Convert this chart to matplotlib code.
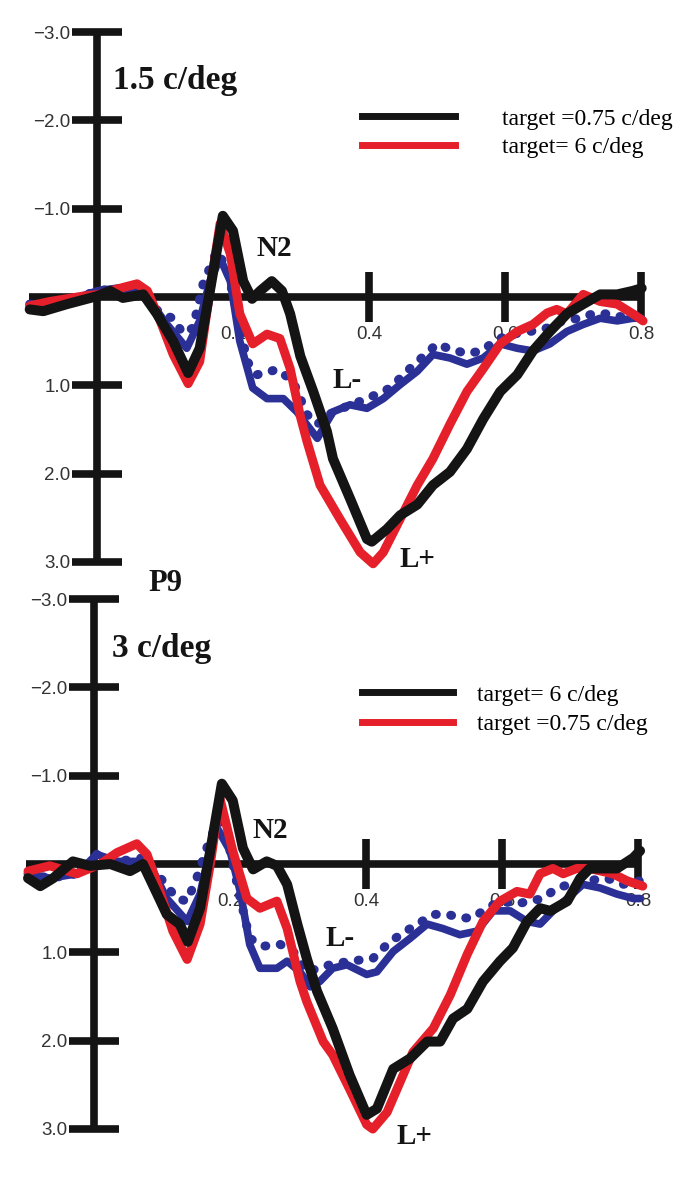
import matplotlib.pyplot as plt
from matplotlib.lines import Line2D

# ---- top panel: 1.5 c/deg ----
t1_black_x = [-0.099, -0.079, -0.044, 0.0, 0.019, 0.038, 0.068, 0.088, 0.112, 0.134, 0.151, 0.166,
              0.185, 0.200, 0.215, 0.228, 0.240, 0.257, 0.272, 0.284, 0.299, 0.318, 0.338, 0.347,
              0.372, 0.397, 0.404, 0.426, 0.446, 0.471, 0.494, 0.519, 0.544, 0.568, 0.593, 0.618,
              0.641, 0.666, 0.691, 0.715, 0.740, 0.765, 0.788, 0.801]
t1_black_y = [0.14, 0.16, 0.08, -0.01, -0.07, 0.01, -0.03, 0.19, 0.50, 0.86, 0.58, -0.07,
              -0.92, -0.75, -0.18, 0.02, -0.07, -0.18, -0.07, 0.19, 0.67, 1.07, 1.52, 1.83,
              2.28, 2.74, 2.77, 2.63, 2.47, 2.35, 2.13, 1.98, 1.72, 1.38, 1.07, 0.88,
              0.61, 0.39, 0.19, 0.08, -0.03, -0.03, -0.07, -0.10]

t1_red_x = [-0.099, -0.069, -0.021, 0.004, 0.029, 0.059, 0.074, 0.093, 0.112, 0.134, 0.151, 0.166,
            0.181, 0.196, 0.210, 0.229, 0.250, 0.269, 0.284, 0.299, 0.309, 0.328, 0.357, 0.387,
            0.406, 0.421, 0.446, 0.471, 0.494, 0.519, 0.544, 0.568, 0.593, 0.618, 0.641, 0.662,
            0.676, 0.691, 0.715, 0.740, 0.765, 0.788, 0.803]
t1_red_y = [0.10, 0.05, -0.01, -0.03, -0.09, -0.15, -0.07, 0.27, 0.65, 0.98, 0.73, -0.07,
            -0.83, -0.49, 0.19, 0.53, 0.42, 0.47, 0.81, 1.35, 1.64, 2.13, 2.51, 2.89,
            3.02, 2.89, 2.51, 2.13, 1.83, 1.44, 1.07, 0.81, 0.53, 0.39, 0.31, 0.18,
            0.14, 0.19, -0.03, 0.05, 0.08, 0.19, 0.27]

t1_blue_x = [-0.099, -0.069, -0.044, 0.0, 0.029, 0.059, 0.078, 0.103, 0.132, 0.151, 0.166, 0.181,
             0.196, 0.210, 0.229, 0.250, 0.274, 0.294, 0.313, 0.324, 0.347, 0.372, 0.397, 0.421,
             0.446, 0.471, 0.494, 0.519, 0.544, 0.568, 0.593, 0.618, 0.641, 0.666, 0.691, 0.715,
             0.740, 0.765, 0.788, 0.801]
t1_blue_y = [0.08, 0.10, 0.05, -0.07, -0.10, -0.07, 0.05, 0.31, 0.58, 0.27, -0.18, -0.44,
             -0.18, 0.50, 1.03, 1.15, 1.15, 1.30, 1.49, 1.60, 1.30, 1.22, 1.26, 1.15,
             0.99, 0.84, 0.65, 0.69, 0.76, 0.69, 0.53, 0.58, 0.61, 0.53, 0.39, 0.31,
             0.24, 0.27, 0.24, 0.24]

t1_dot_x = [-0.099, -0.069, -0.044, 0.0, 0.029, 0.059, 0.074, 0.093, 0.112, 0.126, 0.141, 0.156,
            0.176, 0.191, 0.206, 0.221, 0.235, 0.265, 0.288, 0.309, 0.324, 0.347, 0.387, 0.412,
            0.431, 0.460, 0.500, 0.519, 0.544, 0.566, 0.588, 0.612, 0.637, 0.662, 0.685, 0.710,
            0.729, 0.754, 0.779, 0.797]
t1_dot_y = [0.08, 0.10, 0.05, -0.07, -0.10, -0.07, 0.01, 0.19, 0.24, 0.41, 0.35, -0.15,
            -0.52, -0.33, 0.19, 0.73, 0.88, 0.82, 0.95, 1.33, 1.44, 1.30, 1.18, 1.10,
            1.03, 0.81, 0.53, 0.59, 0.64, 0.61, 0.48, 0.42, 0.39, 0.35, 0.27, 0.24,
            0.19, 0.19, 0.24, 0.19]

# ---- bottom panel: 3 c/deg ----
t2_black_x = [-0.097, -0.079, -0.060, -0.031, -0.006, 0.024, 0.053, 0.072, 0.093, 0.107, 0.126, 0.138,
              0.156, 0.171, 0.188, 0.204, 0.219, 0.234, 0.254, 0.269, 0.284, 0.299, 0.313, 0.328,
              0.351, 0.376, 0.401, 0.416, 0.440, 0.465, 0.490, 0.509, 0.528, 0.549, 0.572, 0.597,
              0.616, 0.637, 0.656, 0.671, 0.696, 0.715, 0.729, 0.769, 0.793, 0.803]
t2_black_y = [0.16, 0.25, 0.16, -0.03, 0.02, 0.0, 0.08, 0.0, 0.34, 0.57, 0.68, 0.88,
              0.50, -0.15, -0.91, -0.72, -0.18, 0.06, -0.03, 0.02, 0.23, 0.68, 1.07, 1.44,
              1.86, 2.39, 2.84, 2.77, 2.32, 2.20, 2.01, 2.01, 1.75, 1.64, 1.33, 1.10,
              0.95, 0.65, 0.50, 0.53, 0.42, 0.16, 0.05, 0.05, -0.07, -0.15]

t2_red_x = [-0.097, -0.065, -0.025, 0.009, 0.034, 0.063, 0.078, 0.097, 0.116, 0.137, 0.156, 0.171,
            0.185, 0.204, 0.225, 0.244, 0.269, 0.284, 0.303, 0.313, 0.337, 0.351, 0.376, 0.401,
            0.410, 0.431, 0.450, 0.469, 0.499, 0.524, 0.549, 0.572, 0.597, 0.622, 0.641, 0.656,
            0.675, 0.690, 0.710, 0.729, 0.763, 0.784, 0.807]
t2_red_y = [0.08, 0.02, 0.11, 0.0, -0.13, -0.23, -0.11, 0.31, 0.76, 1.08, 0.68, 0.0,
            -0.75, -0.15, 0.39, 0.50, 0.42, 0.73, 1.33, 1.56, 2.01, 2.16, 2.55, 2.95,
            3.00, 2.81, 2.47, 2.13, 1.86, 1.48, 1.02, 0.65, 0.42, 0.31, 0.34, 0.11,
            0.05, 0.11, 0.05, 0.05, 0.11, 0.19, 0.25]

t2_blue_x = [-0.097, -0.065, -0.025, 0.004, 0.034, 0.068, 0.087, 0.107, 0.137, 0.156, 0.171, 0.181,
             0.200, 0.215, 0.229, 0.244, 0.269, 0.284, 0.303, 0.318, 0.332, 0.351, 0.372, 0.401,
             0.416, 0.440, 0.465, 0.490, 0.513, 0.538, 0.563, 0.587, 0.612, 0.637, 0.656, 0.675,
             0.696, 0.719, 0.744, 0.769, 0.793, 0.803]
t2_blue_y = [0.11, 0.16, 0.11, -0.11, -0.03, -0.03, 0.08, 0.39, 0.65, 0.34, -0.18, -0.41,
             -0.15, 0.31, 0.91, 1.18, 1.18, 1.10, 1.22, 1.39, 1.33, 1.18, 1.14, 1.25,
             1.22, 0.99, 0.84, 0.68, 0.73, 0.80, 0.76, 0.53, 0.53, 0.65, 0.68, 0.53,
             0.39, 0.23, 0.27, 0.34, 0.39, 0.39]

t2_dot_x = [-0.097, -0.065, -0.025, 0.004, 0.034, 0.072, 0.093, 0.107, 0.122, 0.137, 0.151, 0.171,
            0.185, 0.200, 0.215, 0.229, 0.249, 0.274, 0.293, 0.313, 0.347, 0.376, 0.410, 0.435,
            0.465, 0.499, 0.519, 0.543, 0.557, 0.578, 0.597, 0.622, 0.641, 0.660, 0.681, 0.700,
            0.725, 0.754, 0.778, 0.803]
t2_dot_y = [0.11, 0.16, 0.11, -0.11, -0.03, -0.07, 0.11, 0.25, 0.39, 0.42, 0.16, -0.30,
            -0.49, -0.15, 0.39, 0.84, 0.93, 0.91, 0.99, 1.22, 1.14, 1.10, 1.07, 0.88,
            0.73, 0.57, 0.57, 0.61, 0.61, 0.50, 0.42, 0.45, 0.42, 0.39, 0.27, 0.23,
            0.19, 0.16, 0.23, 0.19]

yticks = [-3, -2, -1, 1, 2, 3]
ytick_labels = ['\u22123.0', '\u22122.0', '\u22121.0', '1.0', '2.0', '3.0']
xticks = [0.2, 0.4, 0.6, 0.8]
xtick_labels = ['0.2', '0.4', '0.6', '0.8']

legend_top = ['target =0.75 c/deg', 'target= 6 c/deg']
legend_bottom = ['target= 6 c/deg', 'target =0.75 c/deg']

BLACK = '#141414'
RED = '#e5202a'
BLUE = '#2b3096'
SERIF = 'Liberation Serif'

fig = plt.figure(figsize=(6.85, 11.82), dpi=100)
ax1 = fig.add_axes([0.0225, 0.5096, 0.953, 0.4707])
ax2 = fig.add_axes([0.0181, 0.0299, 0.953, 0.4707])


def setup(ax):
    ax.set_xlim(-0.12, 0.84)
    ax.set_ylim(3.2, -3.1)
    for s in ['top', 'right']:
        ax.spines[s].set_visible(False)
    ax.spines['left'].set_position(('data', 0))
    ax.spines['bottom'].set_position(('data', 0))
    ax.spines['left'].set_bounds(-3, 3)
    ax.spines['bottom'].set_bounds(-0.1, 0.8)
    for s in ['left', 'bottom']:
        ax.spines[s].set_linewidth(5.5)
        ax.spines[s].set_color(BLACK)
        ax.spines[s].set_capstyle('butt')
    ax.set_yticks(yticks)
    ax.set_yticklabels(ytick_labels)
    ax.set_xticks(xticks)
    ax.set_xticklabels(xtick_labels)
    ax.tick_params(direction='inout', length=36, width=5.5, color=BLACK,
                   labelcolor='#333333', labelsize=13.5)
    ax.tick_params(axis='y', pad=1)
    ax.tick_params(axis='x', pad=2.5)
    # the 0.2 mark is not drawn, only its label
    ax.xaxis.get_major_ticks()[0].tick1line.set_visible(False)
    for lab in ax.get_xticklabels() + ax.get_yticklabels():
        lab.set_family('Liberation Sans')
    ax.patch.set_visible(False)


def curves(ax, dx, dy, bx, by, rx, ry, kx, ky):
    ax.plot(dx, dy, color=BLUE, lw=6.5, linestyle=(0, (0.1, 1.6)),
            dash_capstyle='round', zorder=3)
    ax.plot(bx, by, color=BLUE, lw=5.5, solid_joinstyle='round',
            solid_capstyle='round', zorder=4)
    r, = ax.plot(rx, ry, color=RED, lw=6.5, solid_joinstyle='round',
                 solid_capstyle='round', zorder=5)
    k, = ax.plot(kx, ky, color=BLACK, lw=7.2, solid_joinstyle='round',
                 solid_capstyle='round', zorder=6)
    return k, r


setup(ax1)
setup(ax2)

k1, r1 = curves(ax1, t1_dot_x, t1_dot_y, t1_blue_x, t1_blue_y,
                t1_red_x, t1_red_y, t1_black_x, t1_black_y)
k2, r2 = curves(ax2, t2_dot_x, t2_dot_y, t2_blue_x, t2_blue_y,
                t2_red_x, t2_red_y, t2_black_x, t2_black_y)

# legends
h1 = [Line2D([], [], color=BLACK, lw=5), Line2D([], [], color=RED, lw=5)]
leg1 = ax1.legend(h1, legend_top, loc='upper left', bbox_to_anchor=(362 / 685, 1 - 108 / 1182),
                  bbox_transform=fig.transFigure, frameon=False, borderpad=0, borderaxespad=0,
                  handlelength=3.94, handletextpad=2.0, labelspacing=0.3,
                  prop={'family': SERIF, 'size': 17})
h2 = [Line2D([], [], color=BLACK, lw=5), Line2D([], [], color=RED, lw=5)]
leg2 = ax2.legend(h2, legend_bottom, loc='upper left', bbox_to_anchor=(362 / 685, 1 - 684 / 1182),
                  bbox_transform=fig.transFigure, frameon=False, borderpad=0, borderaxespad=0,
                  handlelength=3.85, handletextpad=1.0, labelspacing=0.35,
                  prop={'family': SERIF, 'size': 17})

# labels
bold = dict(family=SERIF, fontweight='bold', color=BLACK)
ax1.text(0.024, -2.36, '1.5 c/deg', ha='left', va='baseline', fontsize=24, **bold)
ax1.text(0.260, -0.55, 'N2', ha='center', va='center', fontsize=21, **bold)
ax1.text(0.368, 0.95, 'L-', ha='center', va='center', fontsize=21, **bold)
ax1.text(0.471, 2.97, 'L+', ha='center', va='center', fontsize=21, **bold)
ax1.text(0.100, 3.24, 'P9', ha='center', va='center', fontsize=22, **bold)

ax2.text(0.026, -2.34, '3 c/deg', ha='left', va='baseline', fontsize=24, **bold)
ax2.text(0.260, -0.375, 'N2', ha='center', va='center', fontsize=21, **bold)
ax2.text(0.362, 0.84, 'L-', ha='center', va='center', fontsize=21, **bold)
ax2.text(0.471, 3.09, 'L+', ha='center', va='center', fontsize=21, **bold)

fig.savefig('out.png', dpi=100)
